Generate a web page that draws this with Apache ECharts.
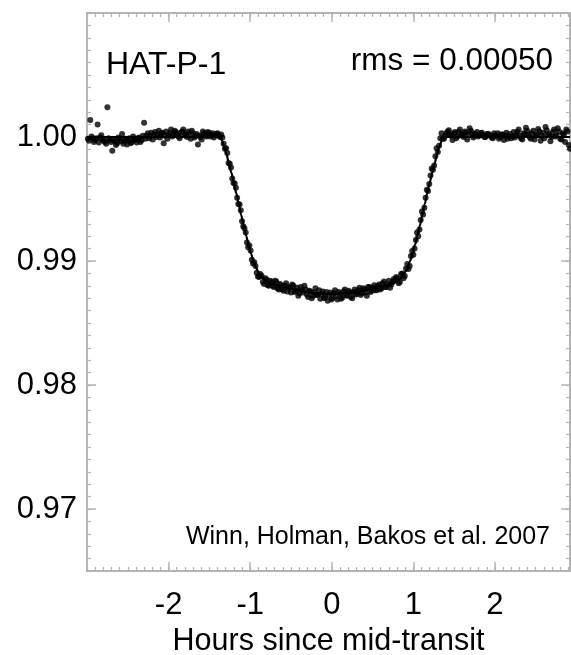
<!DOCTYPE html>
<html>
<head>
<meta charset="utf-8">
<script src="https://cdn.jsdelivr.net/npm/echarts@6/dist/echarts.min.js"></script>
<style>
html,body{margin:0;padding:0;background:#fff;}
#chart{width:571px;height:655px;}
</style>
</head>
<body>
<div id="chart"></div>
<script>
// ---- data ----
const time = [
-2.99,-2.96,-2.93,-2.90,-2.87,-2.84,-2.81,-2.78,-2.75,-2.72,-2.69,-2.66,-2.63,-2.60,-2.57,-2.54,-2.51,-2.48,-2.45,-2.42,
-2.39,-2.36,-2.33,-2.30,-2.27,-2.24,-2.21,-2.18,-2.15,-2.12,-2.09,-2.06,-2.03,-2.00,-1.97,-1.94,-1.91,-1.88,-1.85,-1.82,
-1.79,-1.76,-1.73,-1.70,-1.67,-1.64,-1.61,-1.58,-1.55,-1.52,-1.49,-1.46,-1.43,-1.40,-1.37,
-1.34,-1.31,-1.28,-1.25,-1.22,-1.19,-1.16,-1.13,-1.10,-1.07,-1.04,-1.01,-0.98,-0.95,-0.92,-0.89,-0.86,-0.83,-0.80,-0.77,
-0.74,-0.71,-0.68,-0.65,-0.62,-0.59,-0.56,-0.53,-0.50,-0.47,-0.44,-0.41,-0.38,-0.35,-0.32,-0.29,-0.26,-0.23,-0.20,-0.17,
-0.14,-0.11,-0.08,-0.05,-0.02,0.01,0.04,0.07,0.10,0.13,0.16,0.19,0.22,0.25,0.28,0.31,0.34,0.37,0.40,0.43,
0.46,0.49,0.52,0.55,0.58,0.61,0.64,0.67,0.70,0.73,0.76,
0.79,0.82,0.85,0.88,0.91,0.94,0.97,1.00,1.03,1.06,1.09,1.12,1.15,1.18,1.21,1.24,1.27,1.30,1.33,1.36,
1.39,1.42,1.45,1.48,1.51,1.54,1.57,1.60,1.63,1.66,1.69,1.72,1.75,1.78,1.81,1.84,1.87,1.90,1.93,1.96,
1.99,2.02,2.05,2.08,2.11,2.14,2.17,2.20,2.23,2.26,2.29,2.32,2.35,2.38,2.41,2.44,2.47,2.50,2.53,2.56,
2.59,2.62,2.65,2.68,2.71,2.74,2.77,2.80,2.83,2.86,2.89,2.92
];
const flux = [
0.99985,1.00138,0.99990,0.99975,1.00100,0.99995,0.99980,0.99960,1.00240,0.99975,0.99890,0.99965,0.99950,0.99985,1.00025,0.99970,0.99940,0.99990,0.99960,0.99985,
0.99955,0.99995,0.99975,1.00115,1.00010,0.99990,1.00035,1.00020,1.00000,1.00050,1.00030,0.99950,1.00045,1.00015,1.00060,1.00025,1.00040,1.00005,1.00035,1.00060,
1.00020,1.00045,0.99985,1.00030,1.00010,0.99940,1.00000,1.00045,1.00020,1.00040,1.00005,1.00030,1.00015,1.00030,1.00000,
0.99995,0.99905,0.99870,0.99785,0.99665,0.99625,0.99510,0.99455,0.99320,0.99265,0.99150,0.99125,0.99010,0.98990,0.98905,0.98870,0.98880,0.98815,0.98850,0.98800,
0.98830,0.98790,0.98835,0.98770,0.98805,0.98760,0.98820,0.98785,0.98745,0.98800,0.98760,0.98720,0.98790,0.98745,0.98770,0.98710,0.98755,0.98720,0.98780,0.98730,
0.98695,0.98755,0.98710,0.98680,0.98745,0.98700,0.98765,0.98690,0.98735,0.98705,0.98770,0.98720,0.98745,0.98700,0.98770,0.98735,0.98785,0.98740,0.98770,0.98720,
0.98790,0.98760,0.98805,0.98765,0.98810,0.98780,0.98835,0.98790,0.98840,0.98810,0.98855,
0.98870,0.98820,0.98895,0.98860,0.98940,0.98935,0.99040,0.99050,0.99170,0.99200,0.99330,0.99375,0.99510,0.99565,0.99690,0.99735,0.99845,0.99880,0.99990,0.99985,
1.00010,1.00045,1.00020,0.99975,1.00040,1.00005,1.00060,1.00025,1.00045,0.99980,1.00070,1.00030,1.00010,1.00040,1.00015,1.00035,1.00000,1.00025,1.00020,0.99995,
1.00030,1.00010,0.99985,1.00020,0.99975,1.00035,1.00005,0.99990,1.00040,1.00015,1.00060,0.99990,1.00030,1.00075,1.00020,0.99985,1.00050,1.00010,1.00065,0.99970,
1.00035,1.00080,1.00015,0.99965,1.00040,1.00005,1.00070,0.99985,1.00030,0.99960,1.00045,0.99905
];
// second (interleaved) half of the exposures
const time2 = [
-2.975,-2.945,-2.915,-2.885,-2.855,-2.825,-2.795,-2.765,-2.735,-2.705,-2.675,-2.645,-2.615,-2.585,-2.555,-2.525,-2.495,-2.465,-2.435,-2.405,
-2.375,-2.345,-2.315,-2.285,-2.255,-2.225,-2.195,-2.165,-2.135,-2.105,-2.075,-2.045,-2.015,-1.985,-1.955,-1.925,-1.895,-1.865,-1.835,-1.805,
-1.775,-1.745,-1.715,-1.685,-1.655,-1.625,-1.595,-1.565,-1.535,-1.505,-1.475,-1.445,-1.415,-1.385,
-1.355,-1.325,-1.295,-1.265,-1.235,-1.205,-1.175,-1.145,-1.115,-1.085,-1.055,-1.025,-0.995,-0.965,-0.935,-0.905,-0.875,-0.845,-0.815,-0.785,-0.755,
-0.725,-0.695,-0.665,-0.635,-0.605,-0.575,-0.545,-0.515,-0.485,-0.455,-0.425,-0.395,-0.365,-0.335,-0.305,-0.275,-0.245,-0.215,-0.185,-0.155,
-0.125,-0.095,-0.065,-0.035,-0.005,0.025,0.055,0.085,0.115,0.145,0.175,0.205,0.235,0.265,0.295,0.325,0.355,0.385,0.415,0.445,
0.475,0.505,0.535,0.565,0.595,0.625,0.655,0.685,0.715,0.745,
0.775,0.805,0.835,0.865,0.895,0.925,0.955,0.985,1.015,1.045,1.075,1.105,1.135,1.165,1.195,1.225,1.255,1.285,1.315,1.345,
1.375,1.405,1.435,1.465,1.495,1.525,1.555,1.585,1.615,1.645,1.675,1.705,1.735,1.765,1.795,1.825,1.855,1.885,1.915,1.945,
1.975,2.005,2.035,2.065,2.095,2.125,2.155,2.185,2.215,2.245,2.275,2.305,2.335,2.365,2.395,2.425,2.455,2.485,2.515,2.545,
2.575,2.605,2.635,2.665,2.695,2.725,2.755,2.785,2.815,2.845,2.875,2.905
];
const flux2 = [
0.99970,1.00005,0.99960,0.99990,0.99955,1.00015,0.99970,0.99945,0.99990,0.99960,0.99980,0.99935,0.99995,0.99965,0.99945,0.99985,0.99970,0.99950,1.00005,0.99975,
0.99990,0.99960,1.00010,0.99985,1.00030,1.00005,0.99980,1.00040,1.00020,0.99995,1.00035,1.00010,0.99985,1.00030,1.00005,1.00050,1.00020,0.99990,1.00045,1.00015,
1.00000,1.00030,1.00050,0.99995,1.00025,1.00010,0.99980,1.00030,1.00005,1.00035,1.00015,0.99995,1.00025,1.00010,
1.00020,0.99945,0.99910,0.99790,0.99755,0.99630,0.99590,0.99460,0.99410,0.99280,0.99230,0.99110,0.99085,0.98980,0.98960,0.98875,0.98895,0.98830,0.98860,0.98805,0.98840,
0.98800,0.98840,0.98780,0.98815,0.98770,0.98800,0.98755,0.98790,0.98810,0.98750,0.98785,0.98740,0.98765,0.98800,0.98730,0.98760,0.98700,0.98745,0.98725,0.98765,
0.98735,0.98700,0.98750,0.98725,0.98690,0.98740,0.98715,0.98750,0.98695,0.98755,0.98725,0.98760,0.98710,0.98750,0.98730,0.98765,0.98725,0.98780,0.98745,0.98790,
0.98750,0.98785,0.98765,0.98800,0.98770,0.98820,0.98790,0.98810,0.98785,0.98830,
0.98845,0.98860,0.98830,0.98900,0.98880,0.98975,0.98960,0.99080,0.99100,0.99230,0.99255,0.99400,0.99430,0.99575,0.99620,0.99745,0.99770,0.99910,0.99930,1.00030,
0.99985,1.00030,1.00055,1.00010,1.00030,0.99990,1.00040,1.00015,1.00000,1.00035,1.00020,1.00050,0.99995,1.00025,1.00005,1.00030,1.00015,1.00000,1.00025,1.00010,
0.99990,1.00015,1.00030,1.00000,1.00020,1.00010,0.99985,1.00025,1.00005,0.99995,1.00040,1.00010,0.99980,1.00025,1.00050,1.00000,1.00030,0.99980,1.00020,1.00045,
1.00010,0.99990,1.00055,1.00025,1.00000,1.00060,1.00015,1.00045,0.99980,1.00020,1.00060,0.99935
];
const modelTime = [
-3.00,-1.38,-1.35,-1.32,-1.29,-1.26,-1.23,-1.20,-1.17,-1.14,-1.11,-1.08,-1.05,-1.02,-0.99,-0.96,-0.93,-0.90,-0.87,-0.84,-0.81,-0.78,
-0.70,-0.60,-0.50,-0.40,-0.30,-0.20,-0.10,0.00,0.10,0.20,0.30,0.40,0.50,0.60,0.70,
0.78,0.81,0.84,0.87,0.90,0.93,0.96,0.99,1.02,1.05,1.08,1.11,1.14,1.17,1.20,1.23,1.26,1.29,1.32,1.35,1.38,2.92
];
const modelFlux = [
1.00000,1.00000,0.99975,0.99925,0.99860,0.99785,0.99710,0.99630,0.99545,0.99460,0.99370,0.99285,0.99205,0.99130,0.99060,0.99000,0.98950,0.98910,0.98880,0.98860,0.98840,0.98828,
0.98810,0.98793,0.98778,0.98763,0.98750,0.98741,0.98735,0.98733,0.98735,0.98741,0.98750,0.98763,0.98778,0.98793,0.98810,
0.98828,0.98840,0.98860,0.98880,0.98910,0.98950,0.99000,0.99060,0.99130,0.99205,0.99285,0.99370,0.99460,0.99545,0.99630,0.99710,0.99785,0.99860,0.99925,0.99975,1.00000,1.00000
];
const xTickLabels = [-2, -1, 0, 1, 2];
const xMajorTicks = [-2, -1, 0, 1, 2];
const yTickLabels = [0.97, 0.98, 0.99, 1.00];
const xTitle = 'Hours since mid-transit';
const targetName = 'HAT-P-1';
const rmsText = 'rms = 0.00050';
const creditText = 'Winn, Holman, Bakos et al. 2007';

// ---- chart ----
const FONT = '"Liberation Sans", Arial, Helvetica, sans-serif';
const AX = '#b4b4b4';
const X_MIN = -3, X_MAX = 2.92, Y_MIN = 0.965, Y_MAX = 1.010;

function xAxisDef(pos, major, labels) {
  return {
    type: 'value', position: pos, min: X_MIN, max: X_MAX, interval: 0.1,
    axisLine: { show: !major, onZero: false, lineStyle: { color: AX, width: 2 } },
    axisTick: major
      ? { show: true, inside: true, length: 9, customValues: xMajorTicks, lineStyle: { color: AX, width: 1.5 } }
      : { show: true, inside: true, length: 4, lineStyle: { color: AX, width: 1.2 } },
    axisLabel: labels
      ? { show: true, customValues: xTickLabels, formatter: v => String(Math.round(v)), fontSize: 31, fontFamily: FONT, color: '#000', margin: 19 }
      : { show: false },
    splitLine: { show: false },
    name: labels ? xTitle : '',
    nameLocation: 'middle', nameGap: 49,
    nameTextStyle: { fontSize: 30.5, fontFamily: FONT, color: '#000' }
  };
}
function yAxisDef(pos, major, labels) {
  return {
    type: 'value', position: pos, min: Y_MIN, max: Y_MAX, interval: 0.001,
    axisLine: { show: !major, onZero: false, lineStyle: { color: AX, width: 2 } },
    axisTick: major
      ? { show: true, inside: true, length: 9, customValues: yTickLabels, lineStyle: { color: AX, width: 1.5 } }
      : { show: true, inside: true, length: 4, lineStyle: { color: AX, width: 1.2 } },
    axisLabel: labels
      ? { show: true, customValues: yTickLabels, formatter: v => v.toFixed(2), fontSize: 31, fontFamily: FONT, color: '#000', margin: 10 }
      : { show: false },
    splitLine: { show: false }
  };
}

const chart = echarts.init(document.getElementById('chart'), null, { renderer: 'canvas' });
chart.setOption({
  animation: false,
  backgroundColor: '#fff',
  grid: { left: 87, right: 1, top: 13, bottom: 84, containLabel: false, outerBoundsMode: 'none' },
  xAxis: [
    xAxisDef('bottom', false, true),
    xAxisDef('bottom', true, false),
    xAxisDef('top', false, false),
    xAxisDef('top', true, false)
  ],
  yAxis: [
    yAxisDef('left', false, true),
    yAxisDef('left', true, false),
    yAxisDef('right', false, false),
    yAxisDef('right', true, false)
  ],
  graphic: [
    { type: 'text', left: 106, top: 49, style: { text: targetName, font: '32px ' + FONT, fill: '#000' } },
    { type: 'text', right: 18, top: 45, style: { text: rmsText, font: '31.5px ' + FONT, fill: '#000' } },
    { type: 'text', right: 21, top: 525, style: { text: creditText, font: '25px ' + FONT, fill: '#000' } }
  ],
  series: [
    {
      type: 'line', xAxisIndex: 0, yAxisIndex: 0,
      data: modelTime.map((t, i) => [t, modelFlux[i]]),
      showSymbol: false, smooth: 0.3, smoothMonotone: 'x',
      lineStyle: { color: '#000', width: 2.2 }, z: 2, silent: true
    },
    {
      type: 'scatter', xAxisIndex: 0, yAxisIndex: 0,
      data: time.map((t, i) => [t, flux[i]]).concat(time2.map((t, i) => [t, flux2[i]])),
      symbol: 'circle', symbolSize: 6,
      itemStyle: { color: '#000' }, z: 3, silent: true
    }
  ]
});
</script>
</body>
</html>
